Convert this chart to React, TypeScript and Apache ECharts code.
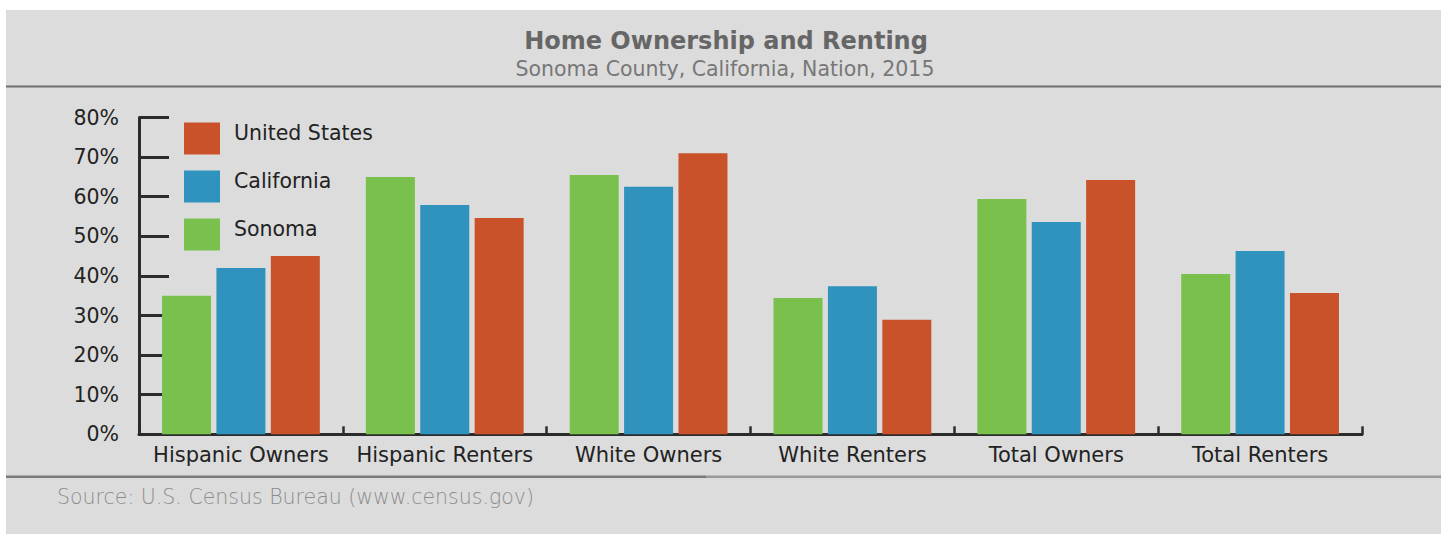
import React, { useEffect, useRef } from "react";
import * as echarts from "echarts";

const categories = [
  "Hispanic Owners",
  "Hispanic Renters",
  "White Owners",
  "White Renters",
  "Total Owners",
  "Total Renters",
];
const sonoma = [35, 65, 65.5, 34.4, 59.4, 40.5];
const california = [42, 57.9, 62.5, 37.4, 53.6, 46.3];
const unitedStates = [45, 54.6, 71, 28.9, 64.2, 35.7];
const legendOrder = ["United States", "California", "Sonoma"];

const FONT = '"DejaVu Sans", "Noto Sans", sans-serif';

export default function App() {
  const ref = useRef<HTMLDivElement>(null);
  useEffect(() => {
    if (!ref.current) return;
    const chart = echarts.init(ref.current, undefined, { renderer: "svg" });
    chart.setOption({
      animation: false,
      textStyle: { fontFamily: FONT },
      graphic: [
        { type: "rect", z: -100, shape: { x: 6, y: 10, width: 1435, height: 524 }, style: { fill: "#dcdcdc" } },
        { type: "rect", z: -90, shape: { x: 6, y: 85.5, width: 1435, height: 2 }, style: { fill: "#6e6e6e" } },
        { type: "rect", z: -90, shape: { x: 6, y: 475.5, width: 700, height: 2.5 }, style: { fill: "#7a7a7a" } },
        { type: "rect", z: -90, shape: { x: 706, y: 475.5, width: 735, height: 2.5 }, style: { fill: "#9a9a9a" } },
        {
          type: "text", x: 726, y: 41,
          style: { text: "Home Ownership and Renting", fill: "#666666", font: `bold 24px ${FONT}`, textAlign: "center", textVerticalAlign: "middle" },
        },
        {
          type: "text", x: 725, y: 69,
          style: { text: "Sonoma County, California, Nation, 2015", fill: "#777777", font: `20.5px ${FONT}`, textAlign: "center", textVerticalAlign: "middle" },
        },
        {
          type: "text", x: 57, y: 497,
          style: { text: "Source: U.S. Census Bureau (www.census.gov)", fill: "#8c8c8c", font: `200 20.5px ${FONT}`, textAlign: "left", textVerticalAlign: "middle" },
        },
      ],
      legend: {
        data: legendOrder,
        orient: "vertical",
        left: 184,
        top: 122,
        padding: 0,
        itemWidth: 36,
        itemHeight: 32,
        itemGap: 15.5,
        icon: "rect",
        formatter: "{a|{name}}",
        textStyle: {
          fontSize: 20.5,
          color: "#222",
          fontFamily: FONT,
          rich: { a: { fontSize: 20.5, color: "#222", fontFamily: FONT, padding: [0, 0, 12, 9] } },
        },
      },
      grid: { left: 139, right: 79, top: 117.5, bottom: 99.7, containLabel: false },
      xAxis: {
        type: "category",
        data: categories,
        axisLine: { lineStyle: { color: "#2b2b2b", width: 3 } },
        axisTick: { show: true, inside: true, length: 8, lineStyle: { color: "#2b2b2b", width: 2.5 } },
        axisLabel: { color: "#222", fontSize: 21, margin: 10, fontFamily: FONT, interval: 0 },
      },
      yAxis: {
        type: "value",
        min: 0,
        max: 80,
        interval: 10,
        axisLine: { show: true, lineStyle: { color: "#2b2b2b", width: 3 } },
        axisTick: { show: true, inside: true, length: 30, lineStyle: { color: "#2b2b2b", width: 3 } },
        splitLine: { show: false },
        axisLabel: { formatter: "{value}%", color: "#222", fontSize: 20.5, margin: 20, fontFamily: FONT },
      },
      series: [
        { name: "Sonoma", type: "bar", data: sonoma, barWidth: 49, barGap: "11%", itemStyle: { color: "#79c14c" } },
        { name: "California", type: "bar", data: california, barWidth: 49, barGap: "11%", itemStyle: { color: "#2f93be" } },
        { name: "United States", type: "bar", data: unitedStates, barWidth: 49, barGap: "11%", itemStyle: { color: "#c9522a" } },
      ],
    });
    return () => chart.dispose();
  }, []);
  return (
    <div style={{ position: "absolute", left: 0, top: 0, width: 1441, height: 534, background: "#ffffff" }}>
      <div ref={ref} style={{ width: 1441, height: 534 }} />
    </div>
  );
}
